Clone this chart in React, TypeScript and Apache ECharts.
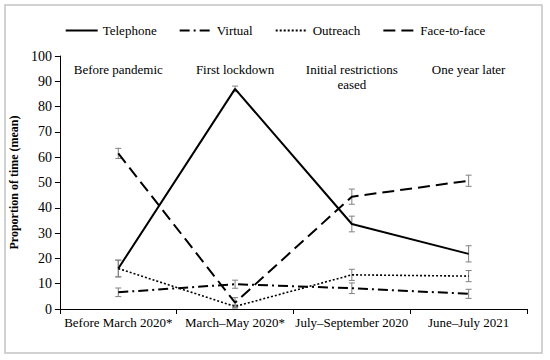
import React, { useEffect, useRef } from "react";
import * as echarts from "echarts";

const categories = ["Before March 2020*", "March–May 2020*", "July–September 2020", "June–July 2021"];
const phases = ["Before pandemic", "First lockdown", "Initial restrictions\neased", "One year later"];
const yTicks = { min: 0, max: 100, interval: 10 };

const telephone = [16, 87, 33.6, 21.8];
const telephoneErr = [3.3, 1.1, 3.1, 3.2];
const virtual = [6.6, 9.8, 8.2, 6.0];
const virtualErr = [1.7, 1.6, 2.1, 1.8];
const outreach = [16, 1, 13.5, 13.0];
const outreachErr = [3.3, 0.6, 2.2, 2.2];
const faceToFace = [61.5, 2.5, 44.4, 50.7];
const faceToFaceErr = [2.0, 2.0, 3.0, 2.2];

const FONT = "Liberation Serif";
const FS = 13;

function errSeries(name: string, vals: number[], errs: number[]) {
  return {
    type: "custom",
    name: name + " error",
    z: 1,
    data: vals.map((v, i) => [i, v - errs[i], v + errs[i]]),
    renderItem: (params: any, api: any) => {
      const lo = api.coord([api.value(0), api.value(1)]);
      const hi = api.coord([api.value(0), api.value(2)]);
      const w = 3;
      const style = { stroke: "#808080", lineWidth: 1 };
      return {
        type: "group",
        children: [
          { type: "line", shape: { x1: lo[0], y1: lo[1], x2: hi[0], y2: hi[1] }, style },
          { type: "line", shape: { x1: lo[0] - w, y1: lo[1], x2: lo[0] + w, y2: lo[1] }, style },
          { type: "line", shape: { x1: hi[0] - w, y1: hi[1], x2: hi[0] + w, y2: hi[1] }, style },
        ],
      };
    },
  };
}

function lineSeries(name: string, vals: number[], type: any, width: number) {
  return {
    type: "line",
    name,
    data: vals,
    symbol: "none",
    z: 3,
    lineStyle: { color: "#000", width, type },
    itemStyle: { color: "#000" },
  };
}

export default function App() {
  const ref = useRef<HTMLDivElement>(null);
  useEffect(() => {
    const chart = echarts.init(ref.current!, null, { renderer: "svg" });
    chart.setOption({
      animation: false,
      backgroundColor: "#fff",
      textStyle: { fontFamily: FONT, color: "#000" },
      graphic: [
        {
          type: "rect",
          shape: { x: 5, y: 5, width: 537, height: 348 },
          style: { fill: "none", stroke: "#c4c4c4", lineWidth: 1.5 },
          silent: true,
        },
      ],
      legend: {
        top: 19,
        left: "center",
        itemWidth: 32,
        itemHeight: 14,
        itemGap: 22,
        itemStyle: { opacity: 0 },
        textStyle: { fontFamily: FONT, fontSize: FS, color: "#000" },
        data: ["Telephone", "Virtual", "Outreach", "Face-to-face"],
      },
      grid: { left: 56, right: 23, top: 56, bottom: 51, containLabel: false },
      xAxis: [
        {
          type: "category",
          data: categories,
          boundaryGap: true,
          axisLine: { lineStyle: { color: "#000", width: 1 } },
          axisTick: { show: true, length: 5, lineStyle: { color: "#000" } },
          axisLabel: { fontFamily: FONT, fontSize: FS, color: "#000", margin: 7, interval: 0 },
        },
        {
          type: "category",
          data: phases,
          position: "top",
          boundaryGap: true,
          axisLine: { show: false },
          axisTick: { show: false },
          axisLabel: {
            inside: true,
            fontFamily: FONT,
            fontSize: FS,
            color: "#000",
            margin: 6,
            interval: 0,
            lineHeight: 15,
            verticalAlign: "top",
          },
        },
      ],
      yAxis: {
        type: "value",
        min: yTicks.min,
        max: yTicks.max,
        interval: yTicks.interval,
        name: "Proportion of time (mean)",
        nameLocation: "middle",
        nameGap: 38,
        nameTextStyle: { fontFamily: FONT, fontSize: 12, fontWeight: "bold", color: "#000" },
        axisLine: { show: true, lineStyle: { color: "#000", width: 1 } },
        axisTick: { show: true, length: 5, lineStyle: { color: "#000" } },
        splitLine: { show: false },
        axisLabel: { fontFamily: FONT, fontSize: 14, color: "#000", margin: 8 },
      },
      series: [
        lineSeries("Telephone", telephone, "solid", 2),
        lineSeries("Virtual", virtual, [10, 4, 2, 4], 2),
        lineSeries("Outreach", outreach, [2, 2], 1.6),
        lineSeries("Face-to-face", faceToFace, [12, 6], 2),
        errSeries("Telephone", telephone, telephoneErr),
        errSeries("Virtual", virtual, virtualErr),
        errSeries("Outreach", outreach, outreachErr),
        errSeries("Face-to-face", faceToFace, faceToFaceErr),
      ],
    });
    return () => chart.dispose();
  }, []);
  return (
    <div
      ref={ref}
      style={{ position: "absolute", left: 0, top: 0, width: 550, height: 360 }}
    />
  );
}
